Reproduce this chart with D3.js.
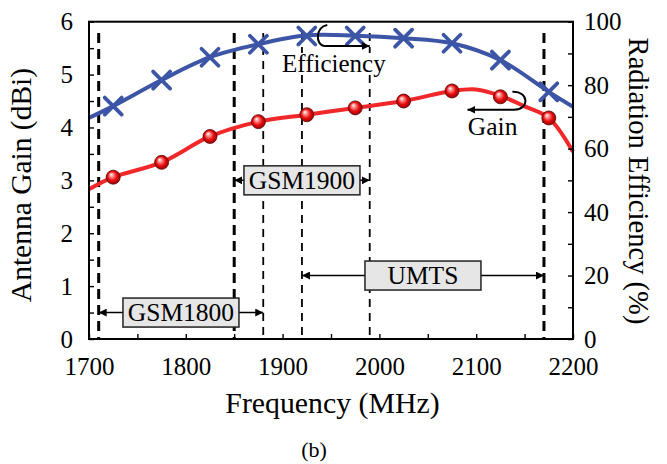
<!DOCTYPE html>
<html>
<head>
<meta charset="utf-8">
<script src="https://cdn.jsdelivr.net/npm/d3@7"></script>
<style>
body { margin: 0; background: #fff; }
</style>
</head>
<body>
<script>
// measured points (every 50 MHz)
var markerFreqs = [1725, 1775, 1825, 1875, 1925, 1975, 2025, 2075, 2125, 2175];
var gainMarkers = [3.06, 3.34, 3.83, 4.11, 4.24, 4.37, 4.50, 4.69, 4.58, 4.18];   // dBi
var effMarkers  = [73.4, 81.6, 88.8, 92.9, 95.5, 95.5, 94.8, 93.2, 87.9, 77.9];   // %

// curves drawn behind the markers
var gainCurveFreqs = [1700, 1725, 1775, 1825, 1875, 1925, 1975, 2025, 2075, 2100, 2125, 2150, 2175, 2200];
var gainCurve      = [2.83, 3.06, 3.34, 3.83, 4.11, 4.24, 4.37, 4.50, 4.69, 4.72, 4.60, 4.40, 4.18, 3.54];
var effCurveFreqs  = [1700, 1725, 1775, 1825, 1875, 1925, 1975, 2025, 2075, 2125, 2175, 2200];
var effCurve       = [69.7, 73.4, 81.6, 88.8, 92.9, 95.7, 95.6, 94.8, 93.2, 87.9, 77.9, 73.2];

// frequency bands: name, lower edge, upper edge, arrow level (left axis units)
var bandNames  = ["GSM1800", "GSM1900", "UMTS"];
var bandLow    = [1710, 1850, 1920];
var bandHigh   = [1880, 1990, 2170];
var bandLevel  = [0.5, 3.0, 1.2];

var xTicks = [1700, 1800, 1900, 2000, 2100, 2200];
var leftTicks = [0, 1, 2, 3, 4, 5, 6];
var rightTicks = [0, 20, 40, 60, 80, 100];

var width = 667, height = 464;
var m = {left: 89, right: 573, top: 21.7, bottom: 339};
var blue = "#3c55a6", red = "#f0282a";
var heavyEdges = [1710, 1850, 2170];
var serif = "'Liberation Serif'";

var svg = d3.select("body").append("svg")
	.attr("width", width)
	.attr("height", height);

var x = d3.scaleLinear().domain([1700, 2200]).range([m.left, m.right]);
var yL = d3.scaleLinear().domain([0, 6]).range([m.bottom, m.top]);
var yR = d3.scaleLinear().domain([0, 100]).range([m.bottom, m.top]);

var defs = svg.append("defs");
defs.append("marker")
	.attr("id", "head")
	.attr("viewBox", "0 0 8 8")
	.attr("refX", 8).attr("refY", 4)
	.attr("markerWidth", 8).attr("markerHeight", 8)
	.attr("markerUnits", "userSpaceOnUse")
	.attr("orient", "auto-start-reverse")
	.append("path").attr("d", "M0,0 L8,4 L0,8 z").attr("fill", "#000");

var grad = defs.append("radialGradient")
	.attr("id", "ball").attr("cx", "50%").attr("cy", "50%").attr("r", "55%")
	.attr("fx", "35%").attr("fy", "30%");
grad.append("stop").attr("offset", "0%").attr("stop-color", "#ffffff");
grad.append("stop").attr("offset", "25%").attr("stop-color", "#ff9090");
grad.append("stop").attr("offset", "60%").attr("stop-color", "#e80c0c");
grad.append("stop").attr("offset", "100%").attr("stop-color", "#8a0000");

function label(sel, size) {
	return sel.style("font-family", serif).style("font-size", size + "px").attr("fill", "#000");
}

/* dashed band edges */
var edges = d3.merge([bandLow, bandHigh]);
svg.append("g").selectAll("line")
	.data(edges)
	.enter().append("line")
		.attr("x1", function(d) { return x(d); })
		.attr("x2", function(d) { return x(d); })
		.attr("y1", 33)
		.attr("y2", m.bottom)
		.attr("stroke", "#000")
		.attr("stroke-width", function(d) { return heavyEdges.indexOf(d) >= 0 ? 3 : 1.8; })
		.attr("stroke-dasharray", function(d) { return heavyEdges.indexOf(d) >= 0 ? "10,6" : "8,6"; });

/* band arrows and boxes */
var bands = svg.append("g").selectAll("g")
	.data(bandNames)
	.enter().append("g");

bands.append("line")
	.attr("x1", function(d, i) { return x(bandLow[i]); })
	.attr("x2", function(d, i) { return x(bandHigh[i]); })
	.attr("y1", function(d, i) { return yL(bandLevel[i]); })
	.attr("y2", function(d, i) { return yL(bandLevel[i]); })
	.attr("stroke", "#000")
	.attr("stroke-width", 1.5)
	.attr("marker-start", "url(#head)")
	.attr("marker-end", "url(#head)");

bands.append("rect")
	.attr("x", function(d, i) { return x((bandLow[i] + bandHigh[i]) / 2) - 58; })
	.attr("y", function(d, i) { return yL(bandLevel[i]) - 14.5; })
	.attr("width", 116)
	.attr("height", 29)
	.attr("fill", "#e6e6e6")
	.attr("stroke", "#222")
	.attr("stroke-width", 1.5);

bands.append("text")
	.attr("x", function(d, i) { return x((bandLow[i] + bandHigh[i]) / 2); })
	.attr("y", function(d, i) { return yL(bandLevel[i]) + 8.5; })
	.attr("text-anchor", "middle")
	.call(label, 25.5)
	.text(function(d) { return d; });

/* curves */
var effLine = d3.line()
	.x(function(d, i) { return x(effCurveFreqs[i]); })
	.y(function(d) { return yR(d); })
	.curve(d3.curveCatmullRom.alpha(0.5));
var gainLine = d3.line()
	.x(function(d, i) { return x(gainCurveFreqs[i]); })
	.y(function(d) { return yL(d); })
	.curve(d3.curveCatmullRom.alpha(0.5));

svg.append("path")
	.attr("d", effLine(effCurve))
	.attr("fill", "none")
	.attr("stroke", blue)
	.attr("stroke-width", 4);
svg.append("path")
	.attr("d", gainLine(gainCurve))
	.attr("fill", "none")
	.attr("stroke", red)
	.attr("stroke-width", 4);

/* markers */
svg.append("g").selectAll("path")
	.data(effMarkers)
	.enter().append("path")
		.attr("d", function(d, i) {
			var cx = x(markerFreqs[i]), cy = yR(d), s = 8.5;
			return "M" + (cx - s) + "," + (cy - s) + "L" + (cx + s) + "," + (cy + s) +
				"M" + (cx - s) + "," + (cy + s) + "L" + (cx + s) + "," + (cy - s);
		})
		.attr("stroke", blue)
		.attr("stroke-width", 3.8)
		.attr("stroke-linecap", "round");

svg.append("g").selectAll("circle")
	.data(gainMarkers)
	.enter().append("circle")
		.attr("cx", function(d, i) { return x(markerFreqs[i]); })
		.attr("cy", function(d) { return yL(d); })
		.attr("r", 7)
		.attr("fill", "url(#ball)")
		.attr("stroke", "#5a0a0a")
		.attr("stroke-width", 0.8);

/* curve identifiers */
var ax = x(1942), ay = yR(95.5);
svg.append("rect")
	.attr("x", x(1953) - 52).attr("y", 53)
	.attr("width", 104).attr("height", 21)
	.attr("fill", "#fff");
svg.append("text")
	.attr("x", x(1953)).attr("y", 72)
	.attr("text-anchor", "middle")
	.call(label, 25)
	.text("Efficiency");
svg.append("path")
	.attr("d", "M" + (ax + 4) + "," + (ay - 11) +
		" C" + (ax - 8) + "," + (ay - 9) + " " + (ax - 8) + "," + (ay + 9) + " " + (ax + 1) + "," + (ay + 10) +
		" L" + x(1990) + "," + (ay + 10))
	.attr("fill", "none")
	.attr("stroke", "#000")
	.attr("stroke-width", 2)
	.attr("marker-end", "url(#head)");

var gx = x(2125), gy = yL(4.58);
svg.append("path")
	.attr("d", "M" + (gx + 12) + "," + (gy - 5) +
		" C" + (gx + 29) + "," + (gy - 6) + " " + (gx + 29) + "," + (gy + 13) + " " + (gx + 14) + "," + (gy + 13) +
		" L" + x(2091) + "," + (gy + 13))
	.attr("fill", "none")
	.attr("stroke", "#000")
	.attr("stroke-width", 2)
	.attr("marker-end", "url(#head)");
svg.append("text")
	.attr("x", x(2117)).attr("y", 135)
	.attr("text-anchor", "middle")
	.call(label, 25.5)
	.text("Gain");

/* axes */
var xAxis = d3.axisBottom(x)
	.tickValues(d3.range(1700, 2201, 50))
	.tickSize(-5).tickPadding(18)
	.tickFormat(function(d) { return xTicks.indexOf(d) >= 0 ? d : ""; });
var leftAxis = d3.axisLeft(yL)
	.tickValues(d3.range(0, 6.01, 0.5))
	.tickSize(-5).tickPadding(16)
	.tickFormat(function(d) { return leftTicks.indexOf(d) >= 0 ? d : ""; });
var rightAxis = d3.axisRight(yR)
	.tickValues(d3.range(0, 101, 10))
	.tickSize(-5).tickPadding(11)
	.tickFormat(function(d) { return rightTicks.indexOf(d) >= 0 ? d : ""; });

function styleAxis(g) {
	g.attr("font-family", null).attr("font-size", null);
	g.select(".domain").remove();
	g.selectAll(".tick line").attr("stroke", "#000").attr("stroke-width", 1.4);
	g.selectAll(".tick text").call(label, 25);
}

svg.append("g").attr("transform", "translate(0," + m.bottom + ")").call(xAxis).call(styleAxis);
svg.append("g").attr("transform", "translate(" + m.left + ",0)").call(leftAxis).call(styleAxis);
svg.append("g").attr("transform", "translate(" + m.right + ",0)").call(rightAxis).call(styleAxis);

svg.append("rect")
	.attr("x", m.left).attr("y", m.top)
	.attr("width", m.right - m.left).attr("height", m.bottom - m.top)
	.attr("fill", "none")
	.attr("stroke", "#000")
	.attr("stroke-width", 2);

/* axis titles */
svg.append("text")
	.attr("transform", "translate(31,185) rotate(-90)")
	.attr("text-anchor", "middle")
	.call(label, 29.5)
	.text("Antenna Gain (dBi)");
svg.append("text")
	.attr("transform", "translate(629,181) rotate(90)")
	.attr("text-anchor", "middle")
	.call(label, 28.6)
	.text("Radiation Efficiency (%)");
svg.append("text")
	.attr("x", 332.5).attr("y", 413)
	.attr("text-anchor", "middle")
	.call(label, 29.8)
	.text("Frequency (MHz)");
svg.append("text")
	.attr("x", 314).attr("y", 457)
	.attr("text-anchor", "middle")
	.call(label, 22)
	.text("(b)");
</script>
</body>
</html>
